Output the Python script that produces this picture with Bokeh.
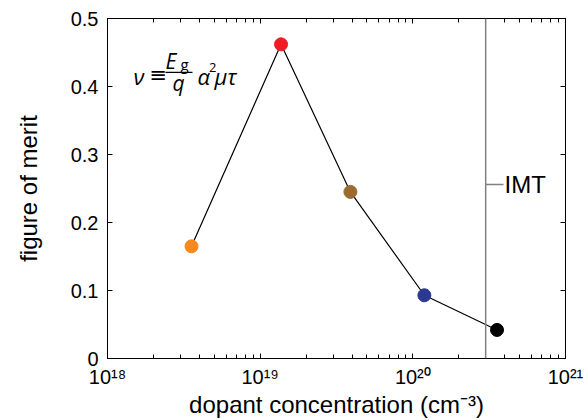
from bokeh.plotting import figure
from bokeh.models import Span, Label, FixedTicker, LogAxis, LinearAxis, Range1d, ColumnDataSource
from bokeh.embed import file_html
from bokeh.resources import INLINE

# ---- data ----
concentration = [3.55e18, 1.37e19, 3.9e19, 1.19e20, 3.56e20]
merit = [0.165, 0.462, 0.245, 0.093, 0.042]
point_colors = ["#F7891F", "#EE1C25", "#9B6B30", "#2B3990", "#000000"]
imt_concentration = 3.0e20
imt_label_y = 0.256
x_ticks = [1e18, 1e19, 1e20, 1e21]
x_tick_labels = ["10¹⁸", "10¹⁹", "10²⁰", "10²¹"]
y_ticks = [0.0, 0.1, 0.2, 0.3, 0.4, 0.5]
y_tick_labels = ["0", "0.1", "0.2", "0.3", "0.4", "0.5"]

FONT = "Liberation Sans"
MATH = "Open Sans"

x_minor = [m * d for d in x_ticks[:-1] for m in range(2, 10)]

p = figure(width=584, height=420, x_axis_type="log",
           x_range=Range1d(1e18, 1e21), y_range=Range1d(0, 0.5),
           output_backend="svg", toolbar_location=None,
           min_border_left=107, min_border_right=19, min_border_top=18, min_border_bottom=58)
p.grid.visible = False
p.outline_line_color = "black"
p.outline_line_width = 1
p.background_fill_color = "white"
p.border_fill_color = "white"

xt = FixedTicker(ticks=x_ticks, minor_ticks=x_minor)
yt = FixedTicker(ticks=y_ticks, minor_ticks=[])

xa = p.xaxis[0]
xa.ticker = xt
xa.major_label_overrides = dict(zip(x_ticks, x_tick_labels))
xa.axis_label = "dopant concentration (cm⁻³)"

ya = p.yaxis[0]
ya.ticker = yt
ya.major_label_overrides = dict(zip(y_ticks, y_tick_labels))
ya.axis_label = "figure of merit"

for ax in (xa, ya):
    ax.major_tick_in = 5
    ax.major_tick_out = 0
    ax.minor_tick_in = 4
    ax.minor_tick_out = 0
    ax.axis_line_color = "black"
    ax.major_tick_line_color = "black"
    ax.minor_tick_line_color = "black"
    ax.major_label_text_font = FONT
    ax.major_label_text_color = "black"
    ax.major_label_text_font_size = "20px"
    ax.axis_label_text_font = FONT
    ax.axis_label_text_font_style = "normal"
    ax.axis_label_text_color = "black"
    ax.axis_label_text_font_size = "24px"

xa.major_label_standoff = 7
xa.axis_label_standoff = 0
ya.major_label_standoff = 9
ya.axis_label_standoff = 26

top = LogAxis(ticker=xt, major_label_text_font_size="0px", major_label_standoff=0,
              major_tick_in=5, major_tick_out=0, minor_tick_in=4, minor_tick_out=0,
              axis_line_color="black")
top.major_label_overrides = {t: "" for t in x_ticks}
right = LinearAxis(ticker=yt, major_label_text_font_size="0px", major_label_standoff=0,
                   major_tick_in=5, major_tick_out=0, minor_tick_in=0, minor_tick_out=0,
                   axis_line_color="black")
right.major_label_overrides = {t: "" for t in y_ticks}
p.add_layout(top, "above")
p.add_layout(right, "right")

# IMT line
p.add_layout(Span(location=imt_concentration, dimension="height", line_color="#808080", line_width=1.5))

src = ColumnDataSource(dict(x=concentration, y=merit, c=point_colors))
p.line("x", "y", source=src, line_color="black", line_width=1.2)
p.scatter("x", "y", source=src, size=13, fill_color="c", line_color="c")

# helper: pixel offset from the frame's top-left corner -> data coordinates (annotations only)
FW, FH = 458.0, 344.0
def fx(dx):
    return 10 ** (18 + dx / FW * 3)
def fy(dy):
    return 0.5 - dy / FH * 0.5

# IMT dash + label
p.segment(x0=[imt_concentration], y0=[imt_label_y], x1=[fx(396)], y1=[imt_label_y],
          line_color="#808080", line_width=1.5)
p.add_layout(Label(x=fx(397), y=imt_label_y, text="IMT", text_font=FONT, text_font_size="24px",
                   text_baseline="middle", text_align="left", text_color="black"))

# formula  nu = (E_g / q) alpha^2 mu tau
def lab(dx, dy, t, size, style="italic", font=MATH):
    p.add_layout(Label(x=fx(dx), y=fy(dy), text=t, text_font=font, text_font_size=size,
                       text_font_style=style, text_baseline="alphabetic", text_align="left",
                       text_color="black"))

lab(26, 58, "ν", "22px")
lab(42, 57, "≡", "21px", "normal", "DejaVu Sans")
lab(58, 43, "E", "21px")
lab(73, 46, "g", "15px", "normal")
p.segment(x0=[fx(58)], y0=[fy(54.5)], x1=[fx(85)], y1=[fy(54.5)], line_color="black", line_width=1.3)
lab(65, 65, "q", "21px")
lab(90, 58, "α", "22px")
lab(101.5, 50, "2", "13px", "normal")
lab(107, 58, "μτ", "22px")

open("out.html", "w").write(file_html(p, INLINE))
